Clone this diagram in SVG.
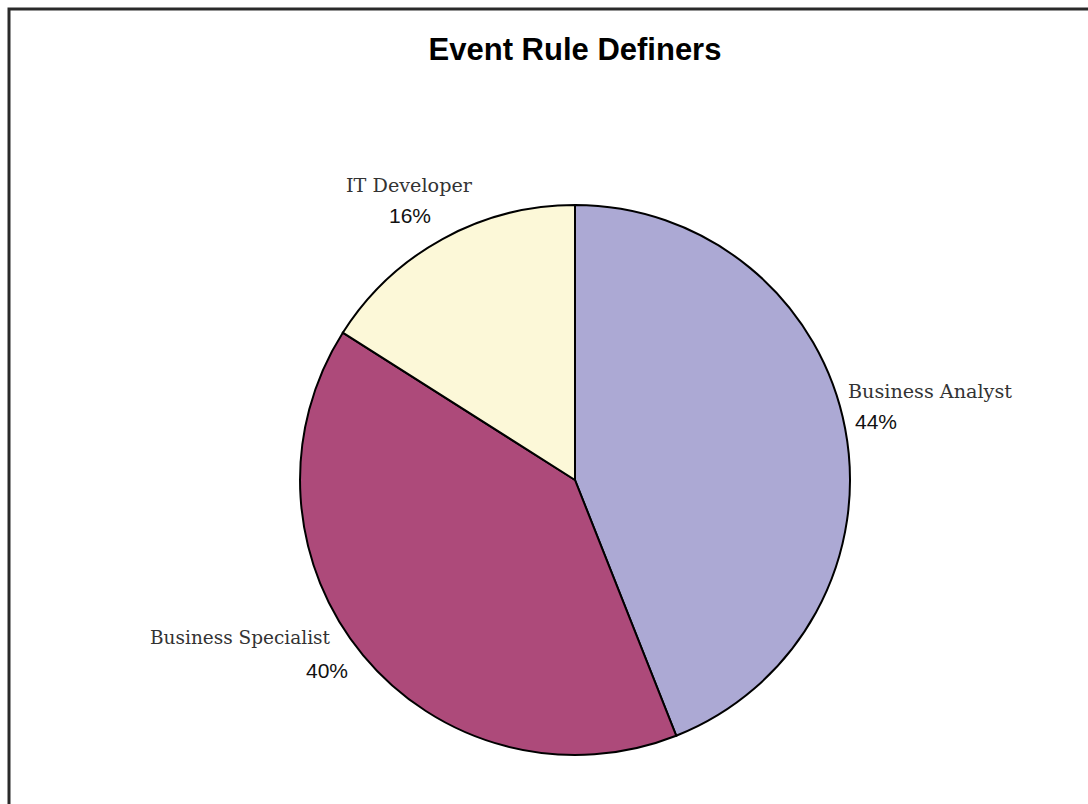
<svg xmlns="http://www.w3.org/2000/svg" width="1088" height="804" viewBox="0 0 1088 804">
<style>
.frame{fill:#fff;stroke:#2a2a2a;stroke-width:3}
.slice{stroke:#000;stroke-width:2}
.title{font-family:"Liberation Sans",Arial,sans-serif;font-weight:bold;font-size:31px;fill:#000}
.name{font-family:"DejaVu Serif","Liberation Serif",serif;font-size:19px;fill:#333}
.pct{font-family:"Liberation Sans",Arial,sans-serif;font-size:21px;fill:#111}
</style>
<rect x="0" y="0" width="1088" height="804" fill="#fff"/>
<rect class="frame" x="9" y="9" width="1100" height="820"/>
<text class="title" x="575" y="60" text-anchor="middle">Event Rule Definers</text>
<g id="connectors"></g>
<g id="business-analyst">
<path class="slice" fill="#aca9d4" d="M575,480 L575,205 A275,275 0 0 1 676.2,735.7 Z"/>
<text class="name" x="848" y="398" textLength="164" lengthAdjust="spacingAndGlyphs">Business Analyst</text>
<text class="pct" x="855" y="429">44%</text>
</g>
<g id="business-specialist">
<path class="slice" fill="#ad4a7a" d="M575,480 L676.2,735.7 A275,275 0 0 1 342.8,332.7 Z"/>
<text class="name" x="150" y="644" textLength="180" lengthAdjust="spacingAndGlyphs">Business Specialist</text>
<text class="pct" x="306" y="678">40%</text>
</g>
<g id="it-developer">
<path class="slice" fill="#fcf8d8" d="M575,480 L342.8,332.7 A275,275 0 0 1 575,205 Z"/>
<text class="name" x="346" y="192" textLength="126" lengthAdjust="spacingAndGlyphs">IT Developer</text>
<text class="pct" x="389" y="223">16%</text>
</g>
</svg>
